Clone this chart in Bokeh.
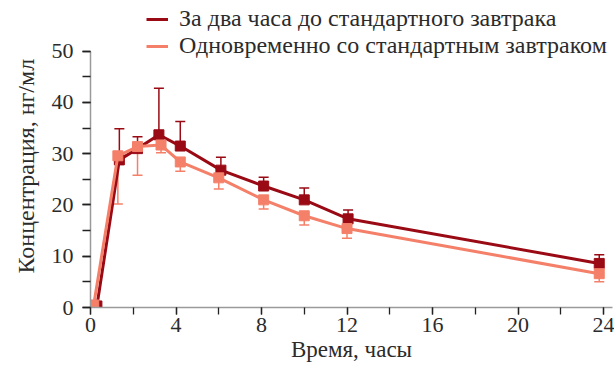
from bokeh.plotting import figure
from bokeh.models import (ColumnDataSource, Whisker, TeeHead, Legend, LegendItem,
                          SingleIntervalTicker, Range1d, Title)
from bokeh.embed import file_html
from bokeh.resources import INLINE

# ---- data ----
time_dark = [0.3, 1.35, 2.2, 3.2, 4.2, 6.1, 8.1, 10.0, 12.05, 23.8]
conc_dark = [0.3, 28.8, 31.0, 33.7, 31.5, 26.8, 23.7, 21.0, 17.3, 8.6]
sd_dark = [0.0, 6.1, 2.3, 9.1, 4.8, 2.5, 1.7, 2.3, 1.7, 1.7]

time_light = [0.15, 1.28, 2.2, 3.3, 4.2, 6.0, 8.1, 10.0, 12.0, 23.8]
conc_light = [0.5, 29.6, 31.4, 31.7, 28.4, 25.3, 21.0, 17.9, 15.4, 6.6]
sd_light = [0.0, 9.4, 5.6, 1.5, 1.8, 2.2, 1.8, 1.8, 1.9, 1.6]

series_names = ["За два часа до стандартного завтрака",
                "Одновременно со стандартным завтраком"]
x_title = "Время, часы"
y_title = "Концентрация, нг/мл"

DARK = "#9A0A14"
LIGHT = "#F4806A"
FONT = "Liberation Serif"
TXT = "#2b2b2b"

src_dark = ColumnDataSource(dict(
    x=time_dark, y=conc_dark,
    up=[c + s for c, s in zip(conc_dark, sd_dark)]))
src_light = ColumnDataSource(dict(
    x=time_light, y=conc_light,
    lo=[c - s for c, s in zip(conc_light, sd_light)]))

# frame spans full height above the x axis; y axis itself is bounded to 0..50
p = figure(width=614, height=372, output_backend="svg", toolbar_location=None,
           x_range=Range1d(0, 24.42), y_range=Range1d(0, 59.9),
           min_border_left=89, min_border_top=0, min_border_right=2,
           min_border_bottom=65)
p.outline_line_color = None
p.xgrid.visible = False
p.ygrid.visible = False
p.background_fill_color = "white"
p.border_fill_color = "white"

# error bars
wd = Whisker(source=src_dark, base="x", upper="up", lower="y", dimension="height",
             line_color=DARK, line_width=1.5,
             upper_head=TeeHead(size=10, line_color=DARK, line_width=1.5),
             lower_head=None)
wl = Whisker(source=src_light, base="x", upper="y", lower="lo", dimension="height",
             line_color=LIGHT, line_width=1.5,
             lower_head=TeeHead(size=10, line_color=LIGHT, line_width=1.5),
             upper_head=None)
p.add_layout(wd)
p.add_layout(wl)

l_dark = p.line("x", "y", source=src_dark, line_color=DARK, line_width=3)
p.scatter("x", "y", source=src_dark, marker="square", size=10,
          fill_color=DARK, line_color=DARK)
l_light = p.line("x", "y", source=src_light, line_color=LIGHT, line_width=3)
p.scatter("x", "y", source=src_light, marker="square", size=10,
          fill_color=LIGHT, line_color=LIGHT)

legend = Legend(items=[LegendItem(label=series_names[0], renderers=[l_dark]),
                       LegendItem(label=series_names[1], renderers=[l_light])],
                location=(56, 248), orientation="vertical",
                padding=0, margin=0, spacing=0, glyph_width=22, glyph_height=26,
                label_height=26,
                label_standoff=11, label_text_font=FONT, label_text_font_size="24px",
                label_text_color=TXT, background_fill_alpha=0, border_line_alpha=0)
p.add_layout(legend, "center")

# axes
for ax in (p.xaxis[0], p.yaxis[0]):
    ax.axis_line_color = "#9a9a9a"
    ax.axis_line_width = 1.5
    ax.major_tick_line_color = "#222222"
    ax.minor_tick_line_color = "#222222"
    ax.major_tick_line_width = 1.3
    ax.minor_tick_line_width = 1.3
    ax.major_tick_in = 0
    ax.minor_tick_in = 0
    ax.major_label_text_font = FONT
    ax.major_label_text_font_size = "22px"
    ax.major_label_text_color = TXT
    ax.axis_label_text_font = FONT
    ax.axis_label_text_font_size = "23px"
    ax.axis_label_text_font_style = "normal"
    ax.axis_label_text_color = TXT

p.xaxis.ticker = SingleIntervalTicker(interval=4, num_minor_ticks=2)
p.xaxis.major_tick_out = 7
p.xaxis.minor_tick_out = 7
p.xaxis.major_label_standoff = 3
p.xaxis.axis_label = x_title
p.xaxis.axis_label_standoff = 2

p.yaxis.ticker = SingleIntervalTicker(interval=10, num_minor_ticks=2)
p.yaxis.bounds = (0, 50)
p.yaxis.major_tick_out = 8
p.yaxis.minor_tick_out = 8
p.yaxis.major_label_standoff = 9

# y-axis title as a side title so it can be positioned along the 0..50 span
ytitle = Title(text=y_title, align="left", offset=34, standoff=20,
               text_font=FONT, text_font_size="24px", text_font_style="normal",
               text_color=TXT)
p.add_layout(ytitle, "left")

open("out.html", "w").write(file_html(p, INLINE))
